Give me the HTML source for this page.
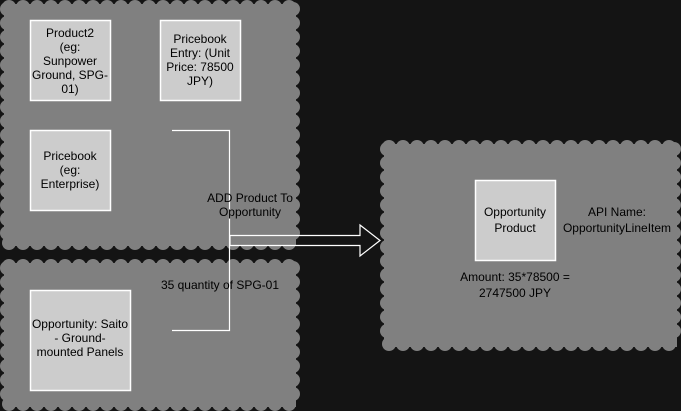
<!DOCTYPE html>
<html><head><style>
html,body{margin:0;padding:0;background:#141414;width:681px;height:411px;overflow:hidden}
svg{display:block}
text{font-family:"Liberation Sans",Arial,sans-serif;font-size:12px;fill:#000;text-anchor:middle}
</style></head><body>
<svg id="s" width="681" height="411" xmlns="http://www.w3.org/2000/svg">
<g id="clouds"></g>
<g fill="#cccccc" stroke="#ffffff" stroke-width="1.5">
<rect x="30.5" y="20.5" width="80" height="80"/>
<rect x="160.5" y="20.5" width="80" height="80"/>
<rect x="30.5" y="130.5" width="80" height="80"/>
<rect x="30.5" y="290.5" width="100" height="100"/>
<rect x="475.5" y="180.5" width="80" height="80"/>
</g>
<path d="M172 130.5H229.5V330.5H172" fill="none" stroke="#fff" stroke-width="1.2"/>
<path d="M230 235.5H360V225L380 240.5L360 256V245.5H230Z" fill="none" stroke="#fff" stroke-width="1.2"/>
<text x="70" y="37">Product2</text><text x="70" y="51">(eg:</text><text x="70" y="65">Sunpower</text><text x="70" y="79">Ground, SPG-</text><text x="70" y="93">01)</text>
<text x="200" y="43">Pricebook</text><text x="200" y="57">Entry: (Unit</text><text x="200" y="71">Price: 78500</text><text x="200" y="85">JPY)</text>
<text x="70" y="160">Pricebook</text><text x="70" y="174">(eg:</text><text x="70" y="188">Enterprise)</text>
<text x="80" y="328">Opportunity: Saito</text><text x="80" y="342">- Ground-</text><text x="80" y="356">mounted Panels</text>
<text x="250" y="202">ADD Product To</text><text x="250" y="216">Opportunity</text>
<text x="220" y="289">35 quantity of SPG-01</text>
<text x="515" y="216">Opportunity</text><text x="515" y="232">Product</text>
<text x="617" y="216">API Name:</text><text x="617" y="232">OpportunityLineItem</text>
<text x="515" y="281">Amount: 35*78500 =</text><text x="515" y="297">2747500 JPY</text>
</svg>
<script>
var g=document.getElementById('clouds'),ns='http://www.w3.org/2000/svg',h='';
function cloud(x0,y0,x1,y1){
 var r=7,st=14;
 h+='<rect x="'+(x0+4)+'" y="'+(y0+4)+'" width="'+(x1-x0-8)+'" height="'+(y1-y0-8)+'" fill="#808080"/>';
 for(var x=x0+r+2;x<=x1-r-2;x+=st){h+='<circle cx="'+x+'" cy="'+(y0+r)+'" r="'+r+'"/>';h+='<circle cx="'+x+'" cy="'+(y1-r)+'" r="'+r+'"/>';}
 for(var y=y0+r+2;y<=y1-r-2;y+=st){h+='<circle cx="'+(x0+r)+'" cy="'+y+'" r="'+r+'"/>';h+='<circle cx="'+(x1-r)+'" cy="'+y+'" r="'+r+'"/>';}
}
cloud(0,0,300,250);cloud(0,259,300,411);cloud(380,140,681,351);
g.innerHTML='<g fill="#808080">'+h+'</g>';
</script>
</body></html>
